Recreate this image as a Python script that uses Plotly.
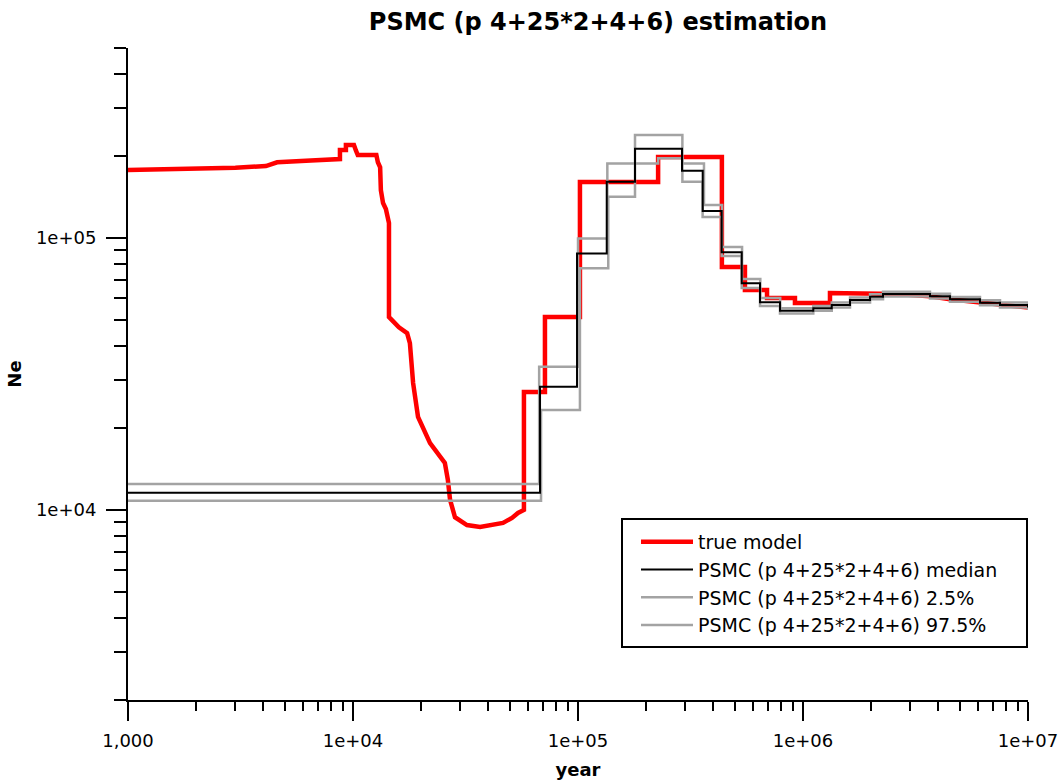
import plotly.graph_objects as go

# ---- data -------------------------------------------------------------
# simulated ("true") demographic model
red_year = [1000, 2000, 3000, 4100, 4600, 6500, 8750, 8750, 9300, 9300, 10100,
            10300, 10500, 12700, 12900, 13200, 13300, 13600, 14000, 14450, 14450,
            14900, 16000, 17400, 17900, 18500, 19450, 22000, 25600, 26400, 27000,
            28400, 32100, 36700, 46400, 50900, 54100, 57500, 57500, 71300, 71300,
            102000, 102000, 227000, 227000, 436000, 436000, 552000, 552000, 692000,
            692000, 921000, 921000, 1318000, 1318000, 2620000, 3667000, 4500000,
            6118000, 7509000, 10000000]
red_ne = [177800, 179500, 181500, 184000, 190000, 193000, 195200, 210700, 210700,
          219800, 219800, 210000, 202000, 202000, 190000, 182000, 150000, 134500,
          128000, 113600, 51200, 49900, 47000, 44700, 41100, 29300, 22000, 17600,
          14900, 12900, 10900, 9400, 8800, 8660, 8960, 9350, 9750, 10000, 27150,
          27150, 51240, 51240, 160700, 160700, 198600, 198600, 78200, 78200, 64400,
          64400, 60170, 60170, 57700, 57700, 62800, 62300, 61100, 59500, 57800,
          56700, 55500]

# PSMC median
med_year = [1000, 67800, 99000, 134200, 179200, 289900, 358300, 435100, 534200,
            644100, 790400, 1111000, 1342000, 1618000, 1986000, 2268000, 3667000,
            4500000, 6118000, 7509000, 10000000]
med_ne = [11580, 28400, 87800, 161100, 213000, 176800, 125800, 88700, 68200,
          58100, 54000, 55150, 56700, 59150, 60850, 62230, 61140, 59520, 57810,
          56720, 55500]

# PSMC 2.5% quantile
lo_year = [1000, 68500, 102000, 136300, 179200, 227000, 291000, 358000, 435000,
           534000, 644000, 790000, 1111000, 1342000, 1618000, 1986000, 2268000,
           3667000, 4500000, 6118000, 7509000, 10000000]
lo_ne = [10820, 23300, 77400, 141800, 188200, 196400, 161100, 119500, 85900,
         65500, 56300, 52800, 54000, 55500, 57900, 59600, 61000, 59900, 58300,
         56600, 55500, 54400]

# PSMC 97.5% quantile
up_year = [1000, 67200, 100000, 135000, 179200, 291000, 363000, 437000, 536000,
           646000, 792000, 1111000, 1342000, 1618000, 1986000, 2268000, 3667000,
           4500000, 6118000, 7509000, 10000000]
up_ne = [12460, 33600, 99700, 188200, 239200, 188200, 132200, 92700, 70700,
         60200, 55200, 56300, 57900, 60400, 62100, 63500, 62400, 60700, 59000,
         57900, 56600]

x_tickvals = [1e3, 1e4, 1e5, 1e6, 1e7]
x_ticktext = ["1,000", "1e+04", "1e+05", "1e+06", "1e+07"]
x_minor = [d * k for d in (1e3, 1e4, 1e5, 1e6) for k in range(2, 10)]

y_tickvals = [1e4, 1e5]
y_ticktext = ["1e+04", "1e+05"]
y_minor = ([k * 1e3 for k in range(2, 10)] + [k * 1e4 for k in range(2, 10)]
           + [k * 1e5 for k in range(2, 6)])

label_psmc = "PSMC (p 4+25*2+4+6)"
FONT = "DejaVu Sans"

# plot area in pixels (figure is 1061 x 782)
L, R, T, B = 128, 1028, 48, 700
PW, PH = R - L, B - T


def px_x(p):
    return (p - L) / PW


def px_y(p):
    return (B - p) / PH


# ---- figure -----------------------------------------------------------
fig = go.Figure()
fig.add_trace(go.Scatter(x=red_year, y=red_ne, mode="lines", name="true model",
                         line=dict(color="#ff0000", width=4.5), legendrank=1))
fig.add_trace(go.Scatter(x=lo_year, y=lo_ne, mode="lines", name=label_psmc + " 2.5%",
                         line=dict(color="#a3a3a3", width=2.5, shape="hv"), legendrank=3))
fig.add_trace(go.Scatter(x=up_year, y=up_ne, mode="lines", name=label_psmc + " 97.5%",
                         line=dict(color="#a3a3a3", width=2.5, shape="hv"), legendrank=4))
fig.add_trace(go.Scatter(x=med_year, y=med_ne, mode="lines", name=label_psmc + " median",
                         line=dict(color="#000000", width=2, shape="hv"), legendrank=2))

axis_common = dict(
    type="log", showgrid=False, zeroline=False, showline=True, linecolor="black",
    linewidth=2, ticks="outside", tickcolor="black", tickwidth=2, automargin=False,
    tickmode="array", tickfont=dict(family=FONT, size=18, color="black"),
)

fig.update_xaxes(
    **axis_common,
    range=[3, 7], tickvals=x_tickvals, ticktext=x_ticktext, ticklen=19,
    ticklabelstandoff=4,
    minor=dict(tickmode="array", tickvals=x_minor, ticks="outside", ticklen=9,
               tickwidth=2, tickcolor="black", showgrid=False),
    title=dict(text="year", font=dict(family=FONT, size=18, color="black", weight="bold"),
               standoff=14),
)
fig.update_yaxes(
    **axis_common,
    range=[3.30103, 5.69897], tickvals=y_tickvals, ticktext=y_ticktext, ticklen=20,
    ticklabelstandoff=6,
    minor=dict(tickmode="array", tickvals=y_minor, ticks="outside", ticklen=12,
               tickwidth=2, tickcolor="black", showgrid=False),
    title=dict(text="Ne", font=dict(family=FONT, size=18, color="black", weight="bold"),
               standoff=10),
)

# legend frame
fig.add_shape(type="rect", xref="paper", yref="paper",
              x0=px_x(622), x1=px_x(1027), y0=px_y(647), y1=px_y(519),
              line=dict(color="black", width=2), fillcolor="white", layer="above")

fig.update_layout(
    width=1061, height=782,
    margin=dict(l=L, r=1061 - R, t=T, b=782 - B),
    paper_bgcolor="white", plot_bgcolor="white",
    font=dict(family=FONT, color="black"),
    title=dict(text="PSMC (p 4+25*2+4+6) estimation", x=598 / 1061, xref="container",
               xanchor="center", y=1 - 22 / 782, yref="container", yanchor="middle",
               font=dict(family=FONT, size=24, color="black", weight="bold")),
    legend=dict(x=px_x(636), y=px_y(523), xanchor="left", yanchor="top",
                borderwidth=0, bgcolor="rgba(0,0,0,0)",
                font=dict(family=FONT, size=19, color="black"),
                itemwidth=52, tracegroupgap=0),
    showlegend=True,
)

fig.write_html("out.html")
